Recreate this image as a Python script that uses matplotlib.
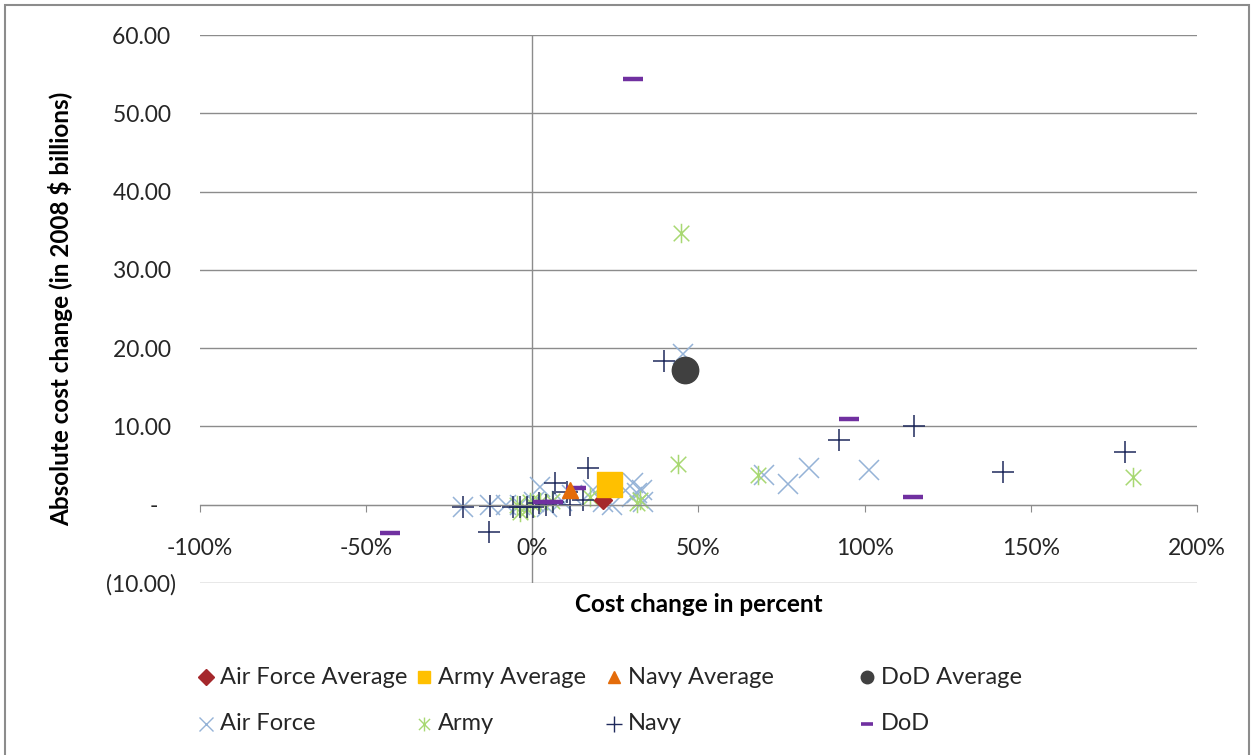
import matplotlib.pyplot as plt
import numpy as np
from matplotlib.path import Path
from matplotlib.lines import Line2D
from matplotlib.patches import Rectangle
from matplotlib.ticker import FixedLocator, FixedFormatter, FuncFormatter

plt.rcParams["font.family"] = ["Lato", "DejaVu Sans"]

# cost change in percent / absolute change in 2008 $ billions
af_x = [-20.8, -12.7, -8.0, -3.6, 0.5, 2.4, 4.5, 9.0, 12.0, 18.4, 21.4, 24.0,
        30.0, 30.4, 31.6, 33.0, 33.4, 45.2, 69.6, 76.8, 83.4, 101.2]
af_y = [-0.3, 0.0, 0.0, 0.0, 0.3, 2.3, -0.3, 0.5, 1.2, 1.9, 0.3, 0.0,
        1.0, 2.8, 1.5, 1.9, 0.3, 19.2, 3.8, 2.6, 4.7, 4.5]

army_x = [-4.5, -3.6, -1.5, -0.6, 2.4, 6.0, 17.5, 22.6, 31.5, 32.5,
          43.7, 44.6, 67.8, 180.7]
army_y = [0.0, -0.9, -0.5, 0.3, 0.4, 0.5, 1.0, 2.3, 0.2, 0.6,
          5.2, 34.7, 3.8, 3.6]

navy_x = [-20.8, -13.0, -12.7, -5.7, -3.6, -1.5, 0.3, 2.0, 4.0, 6.3, 6.9,
          10.5, 11.4, 15.4, 16.9, 39.5, 92.2, 114.8, 141.6, 178.3]
navy_y = [-0.3, -3.5, -0.1, -0.3, -0.3, -0.3, -0.3, 0.2, 0.0, 0.3, 2.8,
          1.6, 0.0, 0.6, 4.7, 18.3, 8.3, 10.0, 4.2, 6.7]

dod_x = [-42.8, 3.3, 6.3, 13.0, 30.4, 95.2, 114.5]
dod_y = [-3.6, 0.3, 0.3, 2.2, 54.4, 11.0, 1.0]

avg_names = ["Air Force Average", "Army Average", "Navy Average", "DoD Average"]
avg_x = [21.4, 23.2, 11.4, 46.0]
avg_y = [0.6, 2.6, 1.9, 17.2]

y_ticks = [-10, 0, 10, 20, 30, 40, 50, 60]
y_labels = ["(10.00)", "-   ", "10.00 ", "20.00 ", "30.00 ", "40.00 ", "50.00 ", "60.00 "]

# Excel-style asterisk: an x with a vertical bar through it
star = Path([(-1, -1), (1, 1), (-1, 1), (1, -1), (0, -1.25), (0, 1.25)],
            [Path.MOVETO, Path.LINETO, Path.MOVETO, Path.LINETO, Path.MOVETO, Path.LINETO])

C_AF, C_ARMY, C_NAVY, C_DOD = "#95b3d7", "#a8d872", "#1f2a5c", "#7030a0"
avg_style = [("D", 9, "#a5282c"), ("s", 18, "#ffc000"),
             ("^", 11, "#e46c0a"), ("o", 19, "#404040")]

fig = plt.figure(figsize=(12.54, 7.55), dpi=100)
ax = fig.add_axes([0.1595, 0.2278, 0.795, 0.7258])

ax.set_xlim(-100, 200)
ax.set_ylim(-10, 60)

ax.yaxis.set_major_locator(FixedLocator(y_ticks))
ax.yaxis.set_major_formatter(FixedFormatter(y_labels))
ax.xaxis.set_major_locator(FixedLocator([-100, -50, 0, 50, 100, 150, 200]))
ax.xaxis.set_major_formatter(FuncFormatter(lambda v, _: f"{v:.0f}%"))

ax.grid(axis="y", color="#8c8c8c", lw=1.0)
ax.set_axisbelow(True)
for s in ("top", "right", "left"):
    ax.spines[s].set_visible(False)
ax.spines["bottom"].set_position(("data", 0))
ax.spines["bottom"].set_color("#8c8c8c")
ax.axvline(0, color="#8c8c8c", lw=1.0, zorder=0.5)

ax.tick_params(axis="y", length=0, pad=17, labelsize=16.5, labelcolor="#262626")
ax.tick_params(axis="x", direction="out", length=5, color="#8c8c8c",
               pad=19, labelsize=16.5, labelcolor="#262626")

ax.plot(af_x, af_y, ls="none", marker="x", ms=14, mew=1.1, color=C_AF)
ax.plot(army_x, army_y, ls="none", marker=star, ms=14, mew=1.1, color=C_ARMY)
ax.plot(navy_x, navy_y, ls="none", marker="+", ms=16, mew=1.1, color=C_NAVY)
ax.plot(dod_x, dod_y, ls="none", marker="_", ms=15, mew=3.2, color=C_DOD)

for xv, yv, (mk, ms, col) in zip(avg_x, avg_y, avg_style):
    ax.plot([xv], [yv], ls="none", marker=mk, ms=ms, color=col, mec=col, zorder=3)

ax.set_xlabel("Cost change in percent", fontsize=17.5, fontweight="bold")
ax.xaxis.set_label_coords(0.5, -0.018)
ax.set_ylabel("Absolute cost change (in 2008 $ billions)", fontsize=17.5,
              fontweight="bold")
ax.yaxis.set_label_coords(-0.127, 0.5)

# legend laid out like the Excel one: two rows of four, small markers
legend_rows = [
    [(avg_names[i], avg_style[i][0], 9 if avg_style[i][0] != "D" else 8,
      avg_style[i][2], 1.0) for i in range(4)],
    [("Air Force", "x", 10, C_AF, 1.0), ("Army", star, 10, C_ARMY, 1.0),
     ("Navy", "+", 12, C_NAVY, 1.0), ("DoD", "_", 9, C_DOD, 2.6)],
]
col_px = [206, 424, 614, 867]
row_px = [677, 724]
W, H = 1254, 755
for r, row in enumerate(legend_rows):
    for c, (txt, mk, ms, col, mew) in enumerate(row):
        xf, yf = col_px[c] / W, 1 - row_px[r] / H
        fig.add_artist(Line2D([xf], [yf], transform=fig.transFigure, ls="none",
                              marker=mk, ms=ms, color=col, mec=col, mew=mew))
        fig.text(xf + 14 / W, yf, txt, fontsize=17, color="#262626",
                 ha="left", va="center")

fig.patches.append(Rectangle((0.004, -0.05), 0.992, 1.043, transform=fig.transFigure,
                             fill=False, ec="#8c8c8c", lw=1.5))

fig.savefig("out.png", dpi=100)
